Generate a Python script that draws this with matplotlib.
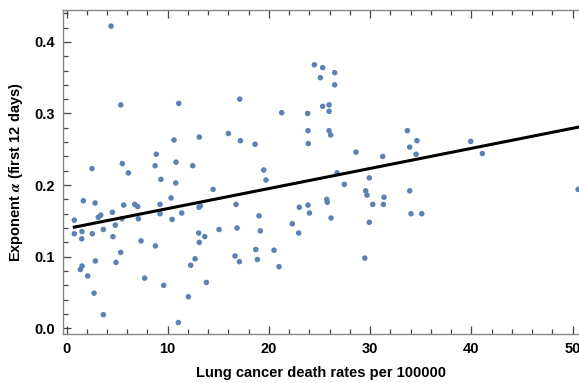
import numpy as np
import matplotlib.pyplot as plt
from matplotlib.ticker import MultipleLocator

# lung cancer death rate (per 100000) vs. growth exponent over first 12 days
death_rate = [
    4.40, 5.36, 8.87, 5.51, 8.75, 2.52, 6.11, 9.33, 1.66, 2.82,
    0.77, 3.38, 3.14, 4.53, 5.65, 6.74, 7.03, 9.24, 9.24, 5.48,
    7.10, 4.82, 3.64, 0.77, 1.53, 2.55, 1.50, 4.59, 7.36, 8.78,
    5.35, 1.53, 1.36, 2.85, 4.89, 2.09, 7.72, 2.72, 3.64,
    11.09, 17.11, 10.62, 13.12, 15.99, 17.18, 18.63, 10.82, 12.47, 19.49,
    19.71, 10.79, 14.48, 10.33, 13.09, 13.22, 11.38, 10.43, 16.75, 13.06,
    13.66, 13.12, 15.07, 16.85, 12.70, 12.27, 16.65, 17.08, 18.70, 9.60,
    13.82, 12.04, 11.05,
    24.49, 25.31, 25.08, 26.50, 26.50, 21.26, 23.83, 25.31, 25.94, 25.94,
    23.86, 25.94, 26.10, 23.89, 26.73, 27.45, 19.02, 19.15, 18.86, 20.50,
    21.00, 23.00, 23.86, 24.00, 22.31, 22.94, 25.71, 25.77, 26.14,
    33.68, 34.63, 33.91, 34.54, 28.61, 31.24, 29.92, 29.56, 29.69, 31.37,
    31.31, 30.26, 33.91, 34.04, 35.10, 29.92, 29.47, 39.94, 41.09, 50.55,
]
exponent = [
    0.422, 0.312, 0.243, 0.230, 0.227, 0.223, 0.217, 0.208, 0.178, 0.175,
    0.151, 0.158, 0.155, 0.162, 0.172, 0.173, 0.170, 0.173, 0.160, 0.153,
    0.153, 0.144, 0.138, 0.132, 0.135, 0.132, 0.125, 0.128, 0.122, 0.115,
    0.106, 0.087, 0.082, 0.094, 0.092, 0.073, 0.070, 0.049, 0.019,
    0.314, 0.320, 0.263, 0.267, 0.272, 0.262, 0.257, 0.232, 0.227, 0.221,
    0.207, 0.203, 0.194, 0.182, 0.169, 0.171, 0.161, 0.152, 0.173, 0.133,
    0.128, 0.120, 0.138, 0.140, 0.097, 0.088, 0.101, 0.093, 0.110, 0.060,
    0.064, 0.044, 0.008,
    0.368, 0.364, 0.350, 0.357, 0.340, 0.301, 0.300, 0.310, 0.312, 0.303,
    0.276, 0.276, 0.270, 0.258, 0.217, 0.201, 0.157, 0.136, 0.096, 0.109,
    0.086, 0.169, 0.172, 0.161, 0.146, 0.133, 0.180, 0.176, 0.154,
    0.276, 0.262, 0.253, 0.243, 0.246, 0.240, 0.210, 0.192, 0.186, 0.183,
    0.173, 0.173, 0.192, 0.160, 0.160, 0.148, 0.098, 0.261, 0.244, 0.194,
]

# linear fit  y = a + b x
fit_intercept = 0.1391
fit_slope = 0.002804

plt.rcParams['font.family'] = ['Liberation Sans', 'DejaVu Sans']
plt.rcParams['font.weight'] = 'bold'
plt.rcParams['mathtext.fontset'] = 'stix'

x = np.array(death_rate)
y = np.array(exponent)

fig = plt.figure(figsize=(5.79, 3.83), dpi=100)
ax = fig.add_axes([63.3 / 579, 49 / 383, (579 - 63.3) / 579, 324 / 383])

ax.scatter(x, y, s=16, color='#5E81B5', edgecolors='none', zorder=3)

xl = np.array([x.min(), x.max()])
ax.plot(xl, fit_intercept + fit_slope * xl, color='black', lw=2.2, zorder=4)

ax.set_xlim(-0.32, 50.64)
ax.set_ylim(-0.008, 0.4445)

ax.xaxis.set_major_locator(MultipleLocator(10))
ax.xaxis.set_minor_locator(MultipleLocator(2))
ax.yaxis.set_major_locator(MultipleLocator(0.1))
ax.yaxis.set_minor_locator(MultipleLocator(0.02))
ax.yaxis.set_major_formatter(plt.FuncFormatter(lambda v, p: f"{v:.1f}"))

ax.tick_params(which='both', direction='in', top=True, right=False,
               color='#444444', width=0.9)
ax.tick_params(which='major', length=6, labelsize=10.5, pad=6)
ax.tick_params(which='minor', length=3.5)

for side in ['left', 'bottom', 'top']:
    ax.spines[side].set_color('#888888')
    ax.spines[side].set_linewidth(1.0)
ax.spines['right'].set_visible(False)

ax.set_xlabel("Lung cancer death rates per 100000", fontsize=10.5,
              fontweight='bold', labelpad=7)
ax.set_ylabel(r"Exponent $\alpha$ (first 12 days)", fontsize=10.5,
              fontweight='bold', labelpad=7)

fig.savefig("out.png", dpi=100)
